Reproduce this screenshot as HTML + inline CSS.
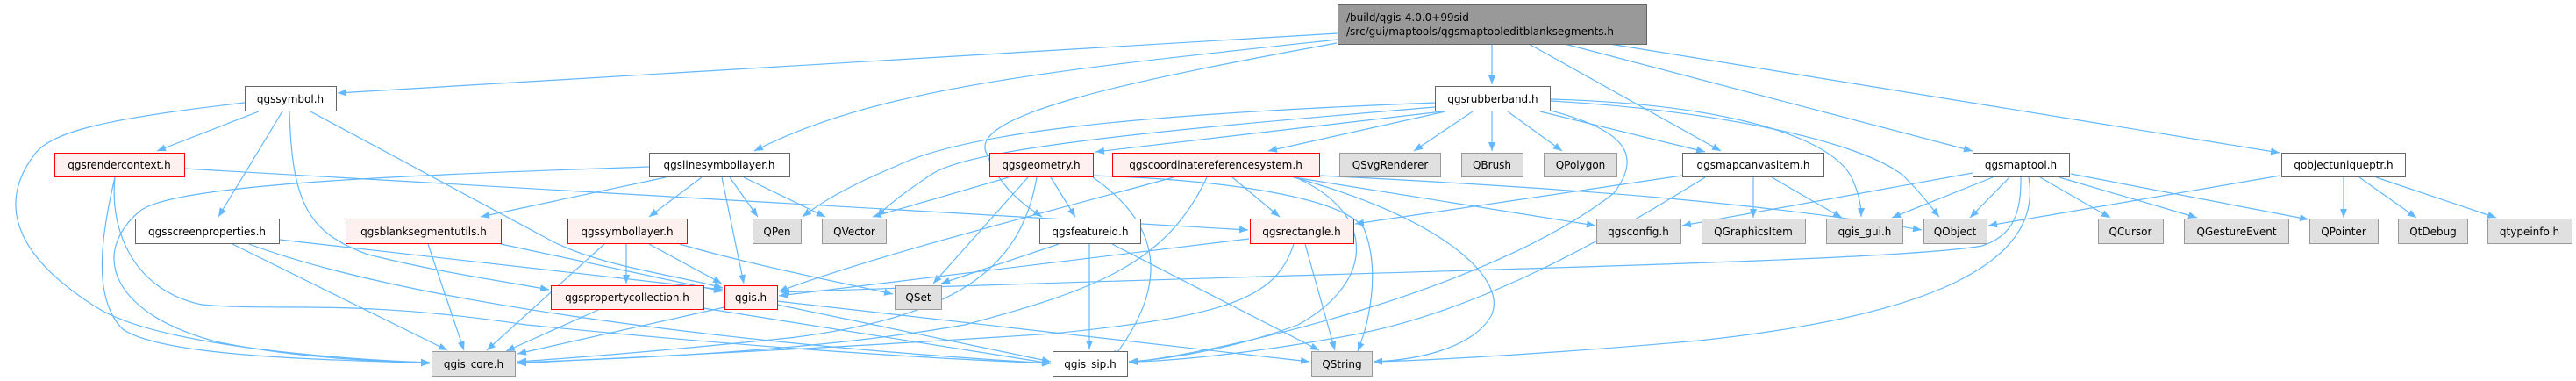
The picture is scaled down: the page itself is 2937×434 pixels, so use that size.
<!DOCTYPE html>
<html><head><meta charset="utf-8"><style>
html,body{margin:0;padding:0;background:#fff;}
svg{display:block;}
text{font-family:"DejaVu Sans","Liberation Sans",sans-serif;font-size:12px;fill:#000;}
.e{fill:none;stroke:#63b8ff;stroke-width:1.2;marker-end:url(#a);}
.w{fill:#fff;stroke:#666;}
.r{fill:#fff0f0;stroke:#f00;}
.g{fill:#e0e0e0;stroke:#999;}
</style></head><body>
<svg width="2937" height="434" viewBox="0 0 2937 434" xmlns="http://www.w3.org/2000/svg">
<defs><marker id="a" markerUnits="userSpaceOnUse" markerWidth="11" markerHeight="9" refX="10" refY="4" orient="auto"><path d="M0,0 L10,4 L0,8 z" fill="#63b8ff"/></marker></defs>
<g>
<!-- main -->
<path class="e" d="M1525,38 L385,106"/>
<path class="e" d="M1525,45 C1200,80 1000,100 860,172"/>
<path class="e" d="M1524,49 C1300,90 1100,130 1125,175 C1140,215 1170,235 1188,247"/>
<path class="e" d="M1701,50 L1701,96"/>
<path class="e" d="M1743,50 L1962,172"/>
<path class="e" d="M1784,50 L2249,172"/>
<path class="e" d="M1835,50 L2599,174"/>
<!-- qgssymbol -->
<path class="e" d="M279,117 C120,135 60,150 40,175 C-10,240 30,300 110,350 C180,395 400,410 490,413"/>
<path class="e" d="M295,127 L179,172"/>
<path class="e" d="M322,127 L249,247"/>
<path class="e" d="M330,127 C333,230 350,265 420,290 C500,310 560,318 626,330"/>
<path class="e" d="M354,127 L630,275 C690,305 780,315 824,328"/>
<!-- rendercontext -->
<path class="e" d="M131,202 C115,270 105,340 140,375 C190,410 420,410 490,414"/>
<path class="e" d="M131,202 C125,260 150,330 230,347 C320,355 400,340 600,370 C900,400 1100,410 1198,414"/>
<path class="e" d="M210,192 C600,215 1000,235 1423,262"/>
<!-- linesymbollayer -->
<path class="e" d="M740,190 C450,200 200,210 160,240 C100,290 130,360 250,390 C350,410 450,412 490,413"/>
<path class="e" d="M759,202 L548,247"/>
<path class="e" d="M800,202 L740,247"/>
<path class="e" d="M823,202 L848,323"/>
<path class="e" d="M832,202 L864,247"/>
<path class="e" d="M848,202 L941,247"/>
<!-- screenproperties -->
<path class="e" d="M265,278 L510,399"/>
<path class="e" d="M319,273 L824,330"/>
<path class="e" d="M284,278 C450,340 800,390 1198,414"/>
<!-- blanksegmentutils -->
<path class="e" d="M488,278 L529,399"/>
<path class="e" d="M571,278 L824,332"/>
<!-- symbollayer -->
<path class="e" d="M689,278 L555,399"/>
<path class="e" d="M714,278 L714,323"/>
<path class="e" d="M740,278 L823,323"/>
<path class="e" d="M775,278 C850,300 950,320 1018,335"/>
<!-- propertycollection -->
<path class="e" d="M682,353 L577,400"/>
<path class="e" d="M802,351 L1198,414"/>
<!-- qgis.h -->
<path class="e" d="M826,350 L590,403"/>
<path class="e" d="M886,347 L1198,412"/>
<path class="e" d="M886,343 L1493,412"/>
<!-- rubberband -->
<path class="e" d="M1638,117 C1300,130 1100,150 1020,190 C960,215 930,235 915,247"/>
<path class="e" d="M1636,122 C1300,150 1100,170 1060,200 C1030,220 1010,235 1000,247"/>
<path class="e" d="M1644,127 L1249,173"/>
<path class="e" d="M1648,127 L1446,172"/>
<path class="e" d="M1679,127 L1612,172"/>
<path class="e" d="M1701,126 L1701,172"/>
<path class="e" d="M1719,127 L1781,172"/>
<path class="e" d="M1756,127 L1944,173"/>
<path class="e" d="M1768,113 C1950,118 2080,150 2110,200 C2120,220 2122,235 2122,247"/>
<path class="e" d="M1768,115 C1950,125 2120,160 2170,200 C2195,225 2205,240 2211,247"/>
<path class="e" d="M1768,126 C1860,150 1870,180 1840,220 C1700,330 1400,400 1287,413"/>
<!-- geometry -->
<path class="e" d="M1150,202 L995,247"/>
<path class="e" d="M1172,202 L1064,323"/>
<path class="e" d="M1182,202 C1165,300 1100,360 900,385 C700,405 620,410 590,412"/>
<path class="e" d="M1198,202 L1226,247"/>
<path class="e" d="M1246,202 C1330,260 1330,330 1268,409"/>
<path class="e" d="M1246,200 C1400,205 1530,225 1555,260 C1575,310 1560,370 1548,400"/>
<!-- crs -->
<path class="e" d="M1338,202 C1200,240 1000,290 888,332"/>
<path class="e" d="M1376,202 C1330,300 1250,330 1100,370 C900,405 650,410 590,413"/>
<path class="e" d="M1405,202 L1459,247"/>
<path class="e" d="M1472,200 C1570,240 1570,320 1480,370 C1400,400 1320,410 1287,412"/>
<path class="e" d="M1475,202 C1650,250 1720,320 1700,360 C1680,395 1620,410 1566,412"/>
<path class="e" d="M1475,202 L1819,257"/>
<path class="e" d="M1504,200 C1800,215 2000,230 2191,262"/>
<!-- featureid -->
<path class="e" d="M1207,278 L1073,323"/>
<path class="e" d="M1242,278 L1242,398"/>
<path class="e" d="M1268,278 L1504,399"/>
<!-- rectangle -->
<path class="e" d="M1424,272 L888,337"/>
<path class="e" d="M1475,278 C1455,340 1400,360 1200,380 C900,400 650,410 590,414"/>
<path class="e" d="M1488,278 L1522,399"/>
<!-- mapcanvasitem -->
<path class="e" d="M1918,200 L1545,255"/>
<path class="e" d="M1944,202 C1850,260 1700,350 1550,380 C1420,405 1320,412 1287,412"/>
<path class="e" d="M1999,202 L1999,248"/>
<path class="e" d="M2020,202 L2100,248"/>
<!-- maptool -->
<path class="e" d="M2249,197 L1918,257"/>
<path class="e" d="M2304,202 C2305,250 2290,270 2260,280 C2150,300 1500,310 890,333"/>
<path class="e" d="M2313,202 C2330,300 2200,360 1937,388 C1800,400 1650,410 1566,412"/>
<path class="e" d="M2272,202 L2157,248"/>
<path class="e" d="M2291,202 L2246,248"/>
<path class="e" d="M2326,202 L2406,248"/>
<path class="e" d="M2348,202 L2505,248"/>
<path class="e" d="M2361,198 L2632,250"/>
<!-- objectuniqueptr -->
<path class="e" d="M2600,200 L2267,257"/>
<path class="e" d="M2672,202 L2672,248"/>
<path class="e" d="M2690,202 L2755,248"/>
<path class="e" d="M2709,202 L2846,248"/>
</g>
<g>
<rect x="1525.5" y="5.5" width="352" height="45" fill="#999" stroke="#666"/>
<text x="1535" y="24">/build/qgis-4.0.0+99sid</text>
<text x="1535" y="40">/src/gui/maptools/qgsmaptooleditblanksegments.h</text>

<rect class="w" x="279.5" y="98.5" width="104" height="28"/><text x="331" y="117" text-anchor="middle">qgssymbol.h</text>
<rect class="w" x="1636.5" y="98.5" width="131" height="28"/><text x="1702" y="117" text-anchor="middle">qgsrubberband.h</text>

<rect class="r" x="62.5" y="174.5" width="148" height="27"/><text x="136" y="192" text-anchor="middle">qgsrendercontext.h</text>
<rect class="w" x="740.5" y="174.5" width="160" height="27"/><text x="820" y="192" text-anchor="middle">qgslinesymbollayer.h</text>
<rect class="r" x="1128.5" y="174.5" width="118" height="27"/><text x="1187" y="192" text-anchor="middle">qgsgeometry.h</text>
<rect class="r" x="1268.5" y="174.5" width="236" height="27"/><text x="1386" y="192" text-anchor="middle">qgscoordinatereferencesystem.h</text>
<rect class="g" x="1527.5" y="174.5" width="115" height="27"/><text x="1585" y="192" text-anchor="middle">QSvgRenderer</text>
<rect class="g" x="1666.5" y="174.5" width="70" height="27"/><text x="1701" y="192" text-anchor="middle">QBrush</text>
<rect class="g" x="1760.5" y="174.5" width="83" height="27"/><text x="1802" y="192" text-anchor="middle">QPolygon</text>
<rect class="w" x="1918.5" y="174.5" width="161" height="27"/><text x="1999" y="192" text-anchor="middle">qgsmapcanvasitem.h</text>
<rect class="w" x="2249.5" y="174.5" width="110" height="27"/><text x="2304" y="192" text-anchor="middle">qgsmaptool.h</text>
<rect class="w" x="2601.5" y="174.5" width="141" height="27"/><text x="2672" y="192" text-anchor="middle">qobjectuniqueptr.h</text>

<rect class="w" x="154.5" y="249.5" width="164" height="28"/><text x="236" y="268" text-anchor="middle">qgsscreenproperties.h</text>
<rect class="r" x="394.5" y="249.5" width="177" height="28"/><text x="483" y="268" text-anchor="middle">qgsblanksegmentutils.h</text>
<rect class="r" x="647.5" y="249.5" width="136" height="28"/><text x="715" y="268" text-anchor="middle">qgssymbollayer.h</text>
<rect class="g" x="858.5" y="249.5" width="55" height="28"/><text x="886" y="268" text-anchor="middle">QPen</text>
<rect class="g" x="937.5" y="249.5" width="73" height="28"/><text x="974" y="268" text-anchor="middle">QVector</text>
<rect class="w" x="1185.5" y="249.5" width="115" height="28"/><text x="1243" y="268" text-anchor="middle">qgsfeatureid.h</text>
<rect class="r" x="1425.5" y="249.5" width="118" height="28"/><text x="1484" y="268" text-anchor="middle">qgsrectangle.h</text>
<rect class="g" x="1820.5" y="249.5" width="96" height="28"/><text x="1868" y="268" text-anchor="middle">qgsconfig.h</text>
<rect class="g" x="1940.5" y="249.5" width="118" height="28"/><text x="1999" y="268" text-anchor="middle">QGraphicsItem</text>
<rect class="g" x="2082.5" y="249.5" width="87" height="28"/><text x="2126" y="268" text-anchor="middle">qgis_gui.h</text>
<rect class="g" x="2193.5" y="249.5" width="72" height="28"/><text x="2229" y="268" text-anchor="middle">QObject</text>
<rect class="g" x="2392.5" y="249.5" width="74" height="28"/><text x="2429" y="268" text-anchor="middle">QCursor</text>
<rect class="g" x="2490.5" y="249.5" width="119" height="28"/><text x="2550" y="268" text-anchor="middle">QGestureEvent</text>
<rect class="g" x="2633.5" y="249.5" width="78" height="28"/><text x="2672" y="268" text-anchor="middle">QPointer</text>
<rect class="g" x="2734.5" y="249.5" width="79" height="28"/><text x="2774" y="268" text-anchor="middle">QtDebug</text>
<rect class="g" x="2836.5" y="249.5" width="96" height="28"/><text x="2884" y="268" text-anchor="middle">qtypeinfo.h</text>

<rect class="r" x="628.5" y="325.5" width="174" height="27"/><text x="715" y="343" text-anchor="middle">qgspropertycollection.h</text>
<rect class="r" x="826.5" y="325.5" width="60" height="27"/><text x="856" y="343" text-anchor="middle">qgis.h</text>
<rect class="g" x="1020.5" y="325.5" width="53" height="27"/><text x="1047" y="343" text-anchor="middle">QSet</text>

<rect class="g" x="492.5" y="400.5" width="95" height="28"/><text x="540" y="419" text-anchor="middle">qgis_core.h</text>
<rect class="w" x="1200.5" y="400.5" width="85" height="28"/><text x="1243" y="419" text-anchor="middle">qgis_sip.h</text>
<rect class="g" x="1495.5" y="400.5" width="69" height="28"/><text x="1530" y="419" text-anchor="middle">QString</text>
</g>
</svg>
</body></html>
